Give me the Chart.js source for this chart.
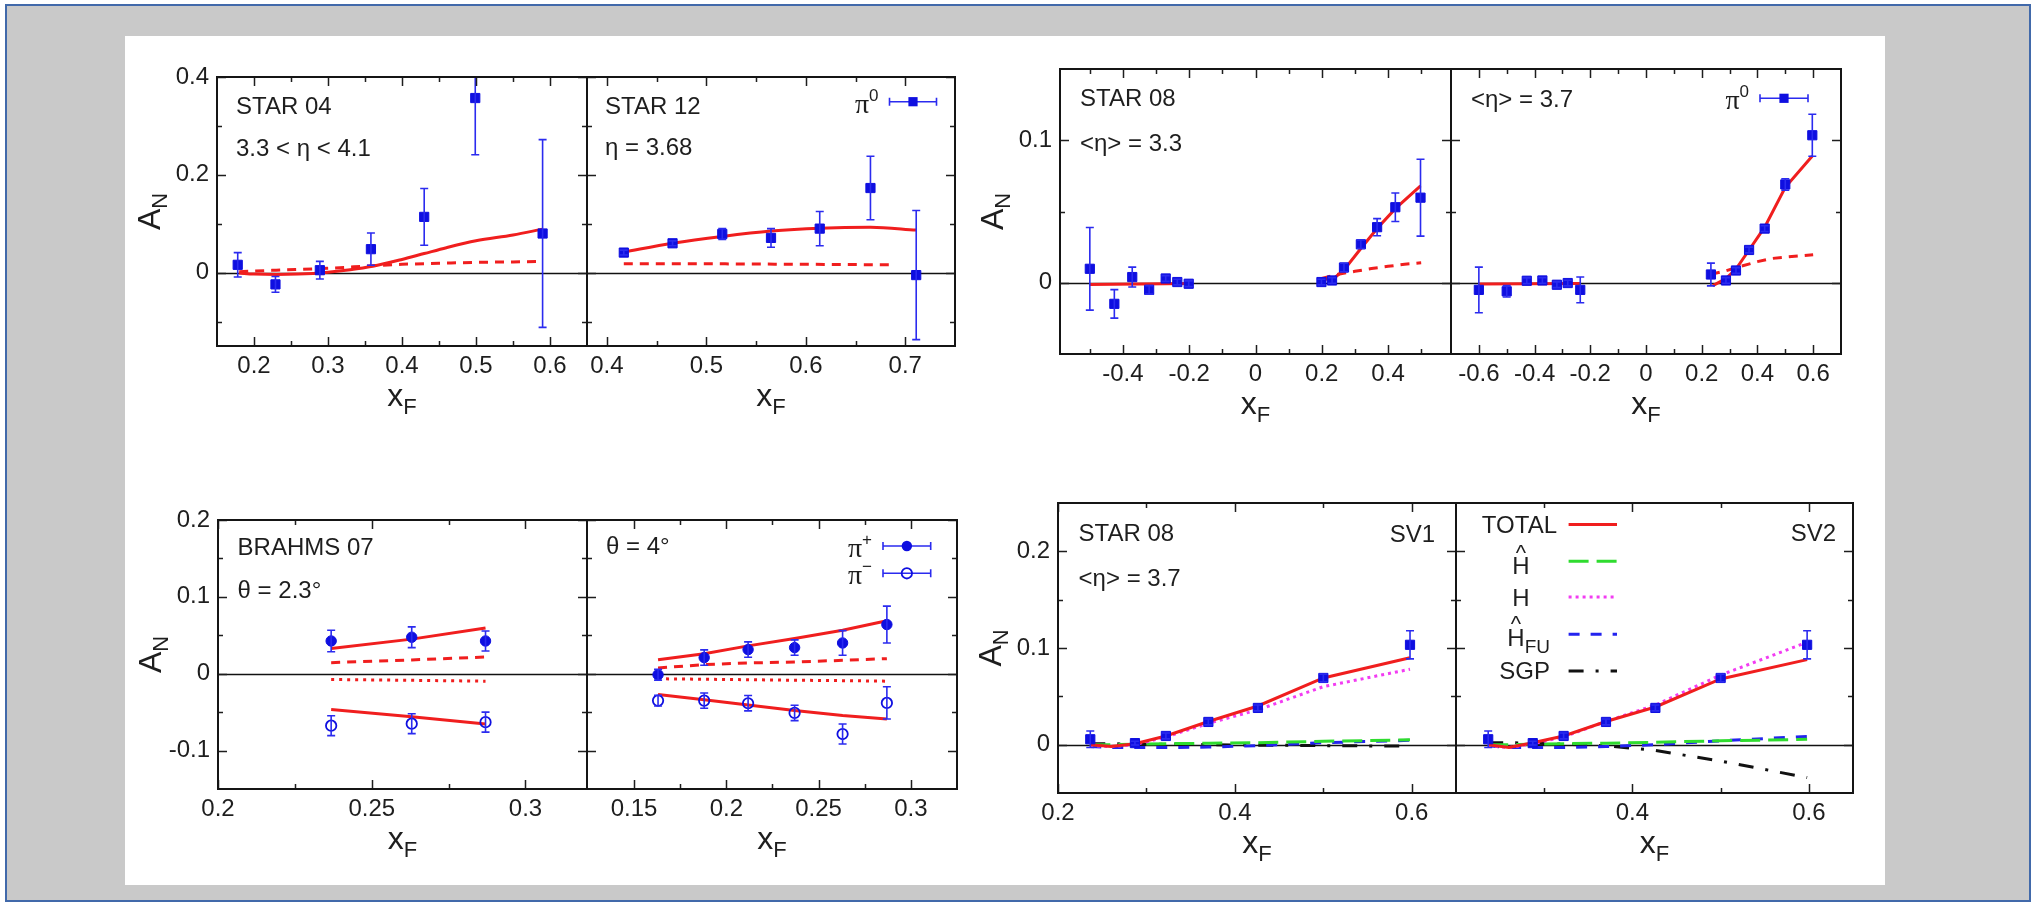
<!DOCTYPE html>
<html>
<head>
<meta charset="utf-8">
<title>A_N versus x_F</title>
<script src="https://cdn.jsdelivr.net/npm/chart.js@4.4.1/dist/chart.umd.min.js"></script>
<style>
  html, body { margin: 0; padding: 0; }
  body { width: 2036px; height: 906px; position: relative; overflow: hidden; background: #ffffff; }
  #frame { position: absolute; left: 5px; top: 4px; width: 2026px; height: 898px; box-sizing: border-box;
           border: 2px solid #4169aa; background: #c9c9c9; }
  #sheet { position: absolute; left: 125px; top: 36px; width: 1760px; height: 849px; background: #ffffff; }
  canvas { position: absolute; }
</style>
</head>
<body>
<div id="frame"></div>
<div id="sheet"></div>
<script>
// ---------------- data ----------------
// STAR 04, 3.3 < eta < 4.1
const star04X    = [0.178, 0.229, 0.289, 0.358, 0.430, 0.499, 0.590];
const star04Y    = [0.016, -0.024, 0.005, 0.048, 0.114, 0.357, 0.080];
const star04Err  = [0.025, 0.016, 0.018, 0.033, 0.058, 0.116, 0.192];
const star04TotX = [0.18, 0.20, 0.23, 0.26, 0.30, 0.33, 0.36, 0.40, 0.43, 0.46, 0.50, 0.55, 0.59];
const star04TotY = [-0.001, -0.003, -0.004, -0.003, 0.001, 0.006, 0.013, 0.027, 0.039, 0.051, 0.065, 0.077, 0.089];
const star04PartX = [0.18, 0.23, 0.30, 0.36, 0.40, 0.45, 0.50, 0.55, 0.59];
const star04PartY = [0.002, 0.005, 0.009, 0.014, 0.017, 0.019, 0.021, 0.022, 0.023];

// STAR 12, eta = 3.68
const star12X    = [0.417, 0.466, 0.516, 0.565, 0.614, 0.665, 0.711];
const star12Y    = [0.041, 0.060, 0.079, 0.071, 0.090, 0.173, -0.005];
const star12Err  = [0.005, 0.005, 0.011, 0.019, 0.035, 0.065, 0.132];
const star12TotX = [0.417, 0.466, 0.516, 0.565, 0.614, 0.665, 0.711];
const star12TotY = [0.042, 0.060, 0.074, 0.085, 0.091, 0.093, 0.087];
const star12PartX = [0.417, 0.50, 0.60, 0.69];
const star12PartY = [0.018, 0.018, 0.017, 0.016];

// STAR 08, <eta> = 3.3
const s08aX   = [-0.500, -0.426, -0.372, -0.321, -0.271, -0.236, -0.2015, 0.199, 0.231, 0.267, 0.318, 0.367, 0.422, 0.498];
const s08aY   = [0.0098, -0.0148, 0.004, -0.005, 0.003, 0.0005, -0.0007, 0.0005, 0.0016, 0.0107, 0.027, 0.039, 0.053, 0.0597];
const s08aErr = [0.029, 0.010, 0.007, 0.003, 0.002, 0.002, 0.002, 0.002, 0.002, 0.003, 0.003, 0.006, 0.010, 0.027];
const s08aNegX = [-0.50, -0.35, -0.20];
const s08aNegY = [-0.0012, -0.0009, -0.0005];
const s08aTotX = [0.20, 0.231, 0.267, 0.318, 0.367, 0.422, 0.498];
const s08aTotY = [0.003, 0.002, 0.009, 0.024, 0.038, 0.052, 0.068];
const s08aPartX = [0.20, 0.25, 0.30, 0.35, 0.40, 0.45, 0.50];
const s08aPartY = [0.003, 0.006, 0.008, 0.010, 0.0115, 0.013, 0.014];

// STAR 08, <eta> = 3.7
const s08bX   = [-0.600, -0.500, -0.428, -0.372, -0.320, -0.281, -0.236, 0.233, 0.287, 0.323, 0.370, 0.426, 0.500, 0.597];
const s08bY   = [-0.005, -0.006, 0.0014, 0.0016, -0.0014, -0.0002, -0.005, 0.0058, 0.0016, 0.0086, 0.023, 0.038, 0.069, 0.1035];
const s08bErr = [0.016, 0.004, 0.002, 0.002, 0.002, 0.002, 0.009, 0.008, 0.002, 0.002, 0.002, 0.002, 0.004, 0.0147];
const s08bNegX = [-0.60, -0.42, -0.236];
const s08bNegY = [-0.0008, -0.0007, -0.0006];
const s08bTotX = [0.24, 0.287, 0.323, 0.370, 0.426, 0.500, 0.597];
const s08bTotY = [-0.002, 0.003, 0.0096, 0.023, 0.039, 0.067, 0.089];
const s08bPartX = [0.233, 0.28, 0.33, 0.40, 0.45, 0.50, 0.60];
const s08bPartY = [0.006, 0.008, 0.011, 0.0148, 0.017, 0.018, 0.0197];

// BRAHMS 07, theta = 2.3 deg
const br23X         = [0.2368, 0.263, 0.287];
const br23PlusY     = [0.0426, 0.0475, 0.0426];
const br23PlusErr   = [0.014, 0.0135, 0.013];
const br23MinusY    = [-0.0676, -0.065, -0.063];
const br23MinusErr  = [0.013, 0.013, 0.013];
const br23PlusTot   = [0.0327, 0.045, 0.0596];
const br23PlusPart  = [0.0144, 0.018, 0.0217];
const br23MinusPart = [-0.0075, -0.0086, -0.0097];
const br23MinusTot  = [-0.0467, -0.0559, -0.0654];

// BRAHMS 07, theta = 4 deg
const br4X          = [0.163, 0.188, 0.2118, 0.237, 0.263, 0.287];
const br4PlusY      = [-0.0013, 0.021, 0.0314, 0.034, 0.040, 0.064];
const br4PlusErr    = [0.007, 0.010, 0.010, 0.010, 0.016, 0.024];
const br4MinusY     = [-0.035, -0.035, -0.0384, -0.051, -0.0785, -0.038];
const br4MinusErr   = [0.007, 0.010, 0.010, 0.010, 0.013, 0.021];
const br4PlusTot    = [0.0183, 0.0261, 0.0362, 0.0457, 0.0566, 0.0688];
const br4PlusPart   = [0.0074, 0.0118, 0.014, 0.0153, 0.0174, 0.0196];
const br4MinusPart  = [-0.0066, -0.0072, -0.0078, -0.0085, -0.009, -0.0097];
const br4MinusTot   = [-0.027, -0.034, -0.0406, -0.048, -0.0545, -0.0588];

// STAR 08, <eta> = 3.7 with the SV1 / SV2 decompositions
const svX      = [0.2365, 0.287, 0.322, 0.370, 0.426, 0.500, 0.598];
const svY      = [0.0056, 0.0016, 0.009, 0.0235, 0.038, 0.069, 0.1033];
const svErr    = [0.0085, 0.002, 0.003, 0.003, 0.003, 0.004, 0.0145];
const svCurveX = [0.2365, 0.26, 0.287, 0.322, 0.37, 0.426, 0.50, 0.598];
const sv1Total = [0.000, -0.002, 0.001, 0.009, 0.024, 0.040, 0.069, 0.090];
const sv1H     = [-0.001, -0.002, 0.000, 0.008, 0.022, 0.036, 0.060, 0.078];
const sv1Hhat  = [0.000, 0.000, 0.0005, 0.001, 0.0015, 0.002, 0.0035, 0.005];
const sv1HFU   = [-0.002, -0.003, -0.003, -0.003, -0.0025, -0.001, 0.002, 0.0045];
const sv1SGP   = [0.001, 0.001, 0.0005, 0.0005, 0.000, -0.0005, -0.001, -0.0015];
const sv2Total = [0.000, -0.003, 0.002, 0.009, 0.024, 0.039, 0.068, 0.088];
const sv2H     = [-0.001, -0.003, 0.001, 0.008, 0.024, 0.041, 0.072, 0.106];
const sv2Hhat  = [0.000, 0.000, 0.0005, 0.001, 0.0015, 0.0025, 0.004, 0.0055];
const sv2HFU   = [-0.001, -0.003, -0.003, -0.003, -0.002, 0.000, 0.004, 0.0085];
const sv2SGP   = [0.002, 0.002, 0.0015, 0.0005, -0.001, -0.006, -0.017, -0.034];

// tick values: labelled ticks and unlabelled minor ticks
const xTicksStar04 = [0.2, 0.3, 0.4, 0.5, 0.6],  xMinorStar04 = [0.25, 0.35, 0.45, 0.55];
const xTicksStar12 = [0.4, 0.5, 0.6, 0.7],       xMinorStar12 = [0.45, 0.55, 0.65];
const yTicksTopL   = [0, 0.2, 0.4],              yMinorTopL   = [-0.1, 0.1, 0.3];
const xTicksS08a   = [-0.4, -0.2, 0, 0.2, 0.4],  xMinorS08a   = [-0.5, -0.3, -0.1, 0.1, 0.3, 0.5];
const xTicksS08b   = [-0.6, -0.4, -0.2, 0, 0.2, 0.4, 0.6], xMinorS08b = [-0.5, -0.3, -0.1, 0.1, 0.3, 0.5];
const yTicksTopR   = [0, 0.1],                   yMinorTopR   = [0.05];
const xTicksBr23   = [0.2, 0.25, 0.3],           xMinorBr23   = [0.225, 0.275];
const xTicksBr4    = [0.15, 0.2, 0.25, 0.3],     xMinorBr4    = [0.175, 0.225, 0.275];
const yTicksBotL   = [-0.1, 0, 0.1, 0.2],        yMinorBotL   = [-0.05, 0.05, 0.15];
const xTicksSV1    = [0.2, 0.4, 0.6],            xMinorSV1    = [0.3, 0.5];
const xTicksSV2    = [0.4, 0.6],                 xMinorSV2    = [0.3, 0.5];
const yTicksBotR   = [0, 0.1, 0.2],              yMinorBotR   = [0.05, 0.15];

// ---------------- styles ----------------
const SANS  = '"Liberation Sans", Arial, Helvetica, sans-serif';
const SERIF = '"Liberation Serif", "Times New Roman", serif';
const INK   = '#1e1e1e';
const MARK  = '#0f0fe0';
const BAR   = '#2b2bef';
const ST = {
  total: { color: '#f01e1e', width: 3, dash: [] },
  part:  { color: '#f01e1e', width: 3, dash: [9, 7] },
  dot:   { color: '#f01e1e', width: 3, dash: [3, 5] },
  hhat:  { color: '#2fdc2f', width: 3, dash: [20, 8] },
  h:     { color: '#f23cf2', width: 3, dash: [3, 4] },
  hfu:   { color: '#2323ef', width: 3, dash: [11, 11] },
  sgp:   { color: '#111111', width: 3, dash: [15, 12, 3, 12] }
};

function pts(xs, ys) { return xs.map((x, i) => ({ x: x, y: ys[i] })); }

function marks(xs, ys, errs, shape) {
  const open = shape === 'open';
  return {
    data: pts(xs, ys), errorBars: errs, showLine: false,
    pointStyle: shape === 'rect' ? 'rect' : 'circle',
    pointRadius: shape === 'rect' ? 6.5 : 5.2,
    pointHoverRadius: 0,
    backgroundColor: open ? 'rgba(0,0,0,0)' : MARK,
    borderColor: MARK,
    pointBorderWidth: open ? 1.8 : 1
  };
}

function curve(xs, ys, st, smooth) {
  return {
    data: pts(xs, ys), showLine: true, borderColor: st.color, borderWidth: st.width,
    borderDash: st.dash, pointRadius: 0, pointHoverRadius: 0, tension: 0,
    cubicInterpolationMode: smooth ? 'monotone' : 'default'
  };
}

// ---------------- drawing helpers ----------------
function rich(ctx, parts, x, y, align) {
  let total = 0;
  parts.forEach(p => { ctx.font = p.size + 'px ' + (p.family || SANS); p.w = ctx.measureText(p.t).width; total += p.w; });
  let cx = align === 'right' ? x - total : (align === 'center' ? x - total / 2 : x);
  ctx.textAlign = 'left';
  ctx.textBaseline = 'alphabetic';
  const at = [];
  parts.forEach(p => {
    ctx.font = p.size + 'px ' + (p.family || SANS);
    ctx.fillText(p.t, cx, y + (p.dy || 0));
    at.push({ x: cx, w: p.w });
    cx += p.w;
  });
  return at;
}

function marker(ctx, shape, x, y) {
  ctx.save();
  ctx.fillStyle = MARK; ctx.strokeStyle = MARK;
  if (shape === 'rect') {
    ctx.fillRect(x - 4.6, y - 4.6, 9.2, 9.2);
  } else {
    ctx.beginPath(); ctx.arc(x, y, 5.2, 0, Math.PI * 2);
    if (shape === 'open') { ctx.lineWidth = 1.8; ctx.stroke(); } else { ctx.fill(); }
  }
  ctx.restore();
}

function hat(ctx, cx, cy) {
  ctx.font = '22px ' + SANS;
  ctx.textAlign = 'center';
  ctx.textBaseline = 'alphabetic';
  ctx.fillText('^', cx, cy + 11);
}

const specs = {};

const decoPlugin = {
  id: 'deco',
  beforeDatasetsDraw(chart) {
    const s = specs[chart.canvas.id]; if (!s) return;
    const ctx = chart.ctx, a = chart.chartArea, ys = chart.scales.y;
    const y0 = Math.round(ys.getPixelForValue(0)) + 0.5;
    ctx.save();
    ctx.strokeStyle = '#111'; ctx.lineWidth = 1.6;
    ctx.beginPath(); ctx.moveTo(a.left, y0); ctx.lineTo(a.right, y0); ctx.stroke();
    ctx.restore();
  },
  afterDatasetsDraw(chart) {
    const ctx = chart.ctx, a = chart.chartArea, ys = chart.scales.y;
    ctx.save();
    ctx.beginPath(); ctx.rect(a.left, a.top, a.right - a.left, a.bottom - a.top); ctx.clip();
    ctx.strokeStyle = BAR; ctx.lineWidth = 1.6;
    chart.data.datasets.forEach((ds, i) => {
      if (!ds.errorBars) return;
      const meta = chart.getDatasetMeta(i);
      meta.data.forEach((el, j) => {
        const v = ds.data[j].y, e = ds.errorBars[j];
        const y1 = ys.getPixelForValue(v + e), y2 = ys.getPixelForValue(v - e);
        ctx.beginPath();
        ctx.moveTo(el.x, y1); ctx.lineTo(el.x, y2);
        ctx.moveTo(el.x - 4, y1); ctx.lineTo(el.x + 4, y1);
        ctx.moveTo(el.x - 4, y2); ctx.lineTo(el.x + 4, y2);
        ctx.stroke();
      });
    });
    ctx.restore();
  },
  afterDraw(chart) {
    const s = specs[chart.canvas.id]; if (!s) return;
    const ctx = chart.ctx, a = chart.chartArea, xs = chart.scales.x, ys = chart.scales.y;
    ctx.save();
    // inward tick marks on all four sides
    ctx.strokeStyle = INK; ctx.lineWidth = 1.5;
    ctx.beginPath();
    const addX = (v, len) => { const p = Math.round(xs.getPixelForValue(v)) + 0.5;
      ctx.moveTo(p, a.bottom); ctx.lineTo(p, a.bottom - len); ctx.moveTo(p, a.top); ctx.lineTo(p, a.top + len); };
    const addY = (v, len) => { const p = Math.round(ys.getPixelForValue(v)) + 0.5;
      ctx.moveTo(a.left, p); ctx.lineTo(a.left + len, p); ctx.moveTo(a.right, p); ctx.lineTo(a.right - len, p); };
    s.x.major.forEach(v => addX(v, 9)); s.x.minor.forEach(v => addX(v, 5));
    s.y.major.forEach(v => addY(v, 9)); s.y.minor.forEach(v => addY(v, 5));
    ctx.stroke();
    // frame
    ctx.lineWidth = 2; ctx.strokeStyle = '#151515';
    ctx.strokeRect(a.left, a.top, a.right - a.left, a.bottom - a.top);

    ctx.fillStyle = INK;
    // axis titles
    rich(ctx, [{ t: 'x', size: 32 }, { t: 'F', size: 22, dy: 8 }], (a.left + a.right) / 2, a.bottom + 60, 'center');
    if (s.yTitle) {
      ctx.save();
      ctx.translate(a.left - 57, (a.top + a.bottom) / 2);
      ctx.rotate(-Math.PI / 2);
      rich(ctx, [{ t: 'A', size: 32 }, { t: 'N', size: 22, dy: 7 }], 0, 0, 'center');
      ctx.restore();
    }
    // panel labels
    (s.texts || []).forEach(t => {
      ctx.font = '24px ' + SANS;
      ctx.textAlign = t.right ? 'right' : 'left';
      ctx.textBaseline = 'alphabetic';
      ctx.fillText(t.t, t.right ? a.right - t.x : a.left + t.x, a.top + t.cy + 8.6);
    });
    // data keys (pi mesons)
    (s.piKeys || []).forEach(k => {
      const y = a.top + k.y, x1 = a.right + k.x1, x2 = a.right + k.x2;
      ctx.save();
      ctx.strokeStyle = BAR; ctx.lineWidth = 1.6;
      ctx.beginPath();
      ctx.moveTo(x1, y); ctx.lineTo(x2, y);
      ctx.moveTo(x1, y - 4); ctx.lineTo(x1, y + 4);
      ctx.moveTo(x2, y - 4); ctx.lineTo(x2, y + 4);
      ctx.stroke();
      ctx.restore();
      marker(ctx, k.shape, (x1 + x2) / 2, y);
      ctx.fillStyle = INK;
      rich(ctx, [{ t: 'π', size: 28, family: SERIF }, { t: k.sup, size: 17, dy: -12 }], x1 - 11, y + 11, 'right');
    });
    // curve keys
    (s.curveKeys || []).forEach(k => {
      const y = a.top + k.ly;
      ctx.save();
      ctx.strokeStyle = k.st.color; ctx.lineWidth = k.st.width; ctx.setLineDash(k.st.dash);
      ctx.beginPath(); ctx.moveTo(a.left + 112.6, y); ctx.lineTo(a.left + 161, y); ctx.stroke();
      ctx.restore();
      ctx.fillStyle = INK;
      const at = rich(ctx, k.parts, a.left + k.tx, a.top + k.cy + 8.6, 'right');
      if (k.hat) hat(ctx, at[0].x + at[0].w / 2, a.top + k.hat);
    });
    ctx.restore();
  }
};
Chart.register(decoPlugin);

function fmtTick(v) { return String(Math.round(v * 1000) / 1000); }

function panel(id, box, s) {
  const padL = s.yTitle ? 110 : 10, padR = 40, padT = 40, padB = 100;
  const cv = document.createElement('canvas');
  cv.id = id;
  cv.width = box.r - box.l + padL + padR;
  cv.height = box.b - box.t + padT + padB;
  cv.style.left = (box.l - padL) + 'px';
  cv.style.top = (box.t - padT) + 'px';
  cv.style.width = cv.width + 'px';
  cv.style.height = cv.height + 'px';
  document.body.appendChild(cv);
  specs[id] = s;
  const tickFont = { family: SANS, size: 24 };
  new Chart(cv, {
    type: 'scatter',
    data: { datasets: s.datasets },
    options: {
      responsive: false, animation: false, devicePixelRatio: 1,
      events: [],
      layout: { padding: { left: 0, right: padR, top: padT, bottom: 0 } },
      plugins: { legend: { display: false }, tooltip: { enabled: false } },
      scales: {
        x: {
          type: 'linear', position: 'bottom', bounds: 'data', min: s.x.min, max: s.x.max,
          afterBuildTicks: sc => { sc.ticks = s.x.major.map(v => ({ value: v })); },
          afterFit: sc => { sc.height = padB; },
          grid: { display: false, drawTicks: false }, border: { display: false },
          ticks: { color: INK, font: tickFont, padding: 6, maxRotation: 0, minRotation: 0, autoSkip: false,
                   callback: v => fmtTick(v) }
        },
        y: {
          type: 'linear', position: 'left', bounds: 'data', min: s.y.min, max: s.y.max,
          afterBuildTicks: sc => { sc.ticks = s.y.major.map(v => ({ value: v })); },
          afterFit: sc => { sc.width = padL; },
          grid: { display: false, drawTicks: false }, border: { display: false },
          ticks: { display: !!s.yTitle, color: INK, font: tickFont, padding: 8, autoSkip: false,
                   callback: v => fmtTick(v) }
        }
      }
    }
  });
}

// ---------------- panels ----------------
panel('p1a', { l: 217, r: 587, t: 77, b: 346 }, {
  yTitle: true,
  x: { min: 0.15, max: 0.65, major: xTicksStar04, minor: xMinorStar04 },
  y: { min: -0.15, max: 0.4, major: yTicksTopL, minor: yMinorTopL },
  texts: [{ t: 'STAR 04', x: 19, cy: 28 }, { t: '3.3 < η < 4.1', x: 19, cy: 70 }],
  datasets: [
    marks(star04X, star04Y, star04Err, 'rect'),
    curve(star04TotX, star04TotY, ST.total, true),
    curve(star04PartX, star04PartY, ST.part, true)
  ]
});

panel('p1b', { l: 587, r: 955, t: 77, b: 346 }, {
  x: { min: 0.38, max: 0.75, major: xTicksStar12, minor: xMinorStar12 },
  y: { min: -0.15, max: 0.4, major: yTicksTopL, minor: yMinorTopL },
  texts: [{ t: 'STAR 12', x: 18, cy: 28 }, { t: 'η = 3.68', x: 18, cy: 69 }],
  piKeys: [{ sup: '0', y: 24.7, x1: -65.5, x2: -18.5, shape: 'rect' }],
  datasets: [
    marks(star12X, star12Y, star12Err, 'rect'),
    curve(star12TotX, star12TotY, ST.total, true),
    curve(star12PartX, star12PartY, ST.part, true)
  ]
});

panel('p2a', { l: 1060, r: 1451, t: 69, b: 354 }, {
  yTitle: true,
  x: { min: -0.59, max: 0.59, major: xTicksS08a, minor: xMinorS08a },
  y: { min: -0.05, max: 0.15, major: yTicksTopR, minor: yMinorTopR },
  texts: [{ t: 'STAR 08', x: 20, cy: 28.7 }, { t: '<η> = 3.3', x: 20, cy: 73 }],
  datasets: [
    marks(s08aX, s08aY, s08aErr, 'rect'),
    curve(s08aNegX, s08aNegY, ST.total, false),
    curve(s08aTotX, s08aTotY, ST.total, false),
    curve(s08aPartX, s08aPartY, ST.part, false)
  ]
});

panel('p2b', { l: 1451, r: 1841, t: 69, b: 354 }, {
  x: { min: -0.7, max: 0.7, major: xTicksS08b, minor: xMinorS08b },
  y: { min: -0.05, max: 0.15, major: yTicksTopR, minor: yMinorTopR },
  texts: [{ t: '<η> = 3.7', x: 20, cy: 29 }],
  piKeys: [{ sup: '0', y: 29.3, x1: -81, x2: -33, shape: 'rect' }],
  datasets: [
    marks(s08bX, s08bY, s08bErr, 'rect'),
    curve(s08bNegX, s08bNegY, ST.total, false),
    curve(s08bTotX, s08bTotY, ST.total, false),
    curve(s08bPartX, s08bPartY, ST.part, false)
  ]
});

panel('p3a', { l: 218, r: 587, t: 520, b: 789 }, {
  yTitle: true,
  x: { min: 0.2, max: 0.32, major: xTicksBr23, minor: xMinorBr23 },
  y: { min: -0.15, max: 0.2, major: yTicksBotL, minor: yMinorBotL },
  texts: [{ t: 'BRAHMS 07', x: 19.6, cy: 26.7 }, { t: 'θ = 2.3°', x: 19.6, cy: 69 }],
  datasets: [
    marks(br23X, br23PlusY, br23PlusErr, 'disc'),
    marks(br23X, br23MinusY, br23MinusErr, 'open'),
    curve(br23X, br23PlusTot, ST.total, false),
    curve(br23X, br23PlusPart, ST.part, false),
    curve(br23X, br23MinusPart, ST.dot, false),
    curve(br23X, br23MinusTot, ST.total, false)
  ]
});

panel('p3b', { l: 587, r: 957, t: 520, b: 789 }, {
  x: { min: 0.1245, max: 0.325, major: xTicksBr4, minor: xMinorBr4 },
  y: { min: -0.15, max: 0.2, major: yTicksBotL, minor: yMinorBotL },
  texts: [{ t: 'θ = 4°', x: 19, cy: 25 }],
  piKeys: [{ sup: '+', y: 26, x1: -74, x2: -26.3, shape: 'disc' },
           { sup: '−', y: 53.3, x1: -74, x2: -26.3, shape: 'open' }],
  datasets: [
    marks(br4X, br4PlusY, br4PlusErr, 'disc'),
    marks(br4X, br4MinusY, br4MinusErr, 'open'),
    curve(br4X, br4PlusTot, ST.total, false),
    curve(br4X, br4PlusPart, ST.part, false),
    curve(br4X, br4MinusPart, ST.dot, false),
    curve(br4X, br4MinusTot, ST.total, false)
  ]
});

panel('p4a', { l: 1058, r: 1456, t: 503, b: 793 }, {
  yTitle: true,
  x: { min: 0.2, max: 0.65, major: xTicksSV1, minor: xMinorSV1 },
  y: { min: -0.05, max: 0.25, major: yTicksBotR, minor: yMinorBotR },
  texts: [{ t: 'STAR 08', x: 20.6, cy: 29 }, { t: '<η> = 3.7', x: 20.6, cy: 74 },
          { t: 'SV1', x: 21, cy: 30, right: true }],
  datasets: [
    marks(svX, svY, svErr, 'rect'),
    curve(svCurveX, sv1Total, ST.total, false),
    curve(svCurveX, sv1H, ST.h, false),
    curve(svCurveX, sv1Hhat, ST.hhat, false),
    curve(svCurveX, sv1HFU, ST.hfu, false),
    curve(svCurveX, sv1SGP, ST.sgp, false)
  ]
});

panel('p4b', { l: 1456, r: 1853, t: 503, b: 793 }, {
  x: { min: 0.2, max: 0.65, major: xTicksSV2, minor: xMinorSV2 },
  y: { min: -0.05, max: 0.25, major: yTicksBotR, minor: yMinorBotR },
  texts: [{ t: 'SV2', x: 17, cy: 29, right: true }],
  curveKeys: [
    { parts: [{ t: 'TOTAL', size: 24 }], tx: 101, cy: 21.6, ly: 21.6, st: ST.total },
    { parts: [{ t: 'H', size: 24 }], tx: 73.5, cy: 62.3, ly: 58.3, st: ST.hhat, hat: 45.5 },
    { parts: [{ t: 'H', size: 24 }], tx: 73.5, cy: 94, ly: 94, st: ST.h },
    { parts: [{ t: 'H', size: 24 }, { t: 'FU', size: 19, dy: 7 }], tx: 94, cy: 134, ly: 131.3, st: ST.hfu, hat: 117.3 },
    { parts: [{ t: 'SGP', size: 24 }], tx: 94, cy: 167.3, ly: 168, st: ST.sgp }
  ],
  datasets: [
    marks(svX, svY, svErr, 'rect'),
    curve(svCurveX, sv2Total, ST.total, false),
    curve(svCurveX, sv2H, ST.h, false),
    curve(svCurveX, sv2Hhat, ST.hhat, false),
    curve(svCurveX, sv2HFU, ST.hfu, false),
    curve(svCurveX, sv2SGP, ST.sgp, false)
  ]
});
</script>
</body>
</html>
